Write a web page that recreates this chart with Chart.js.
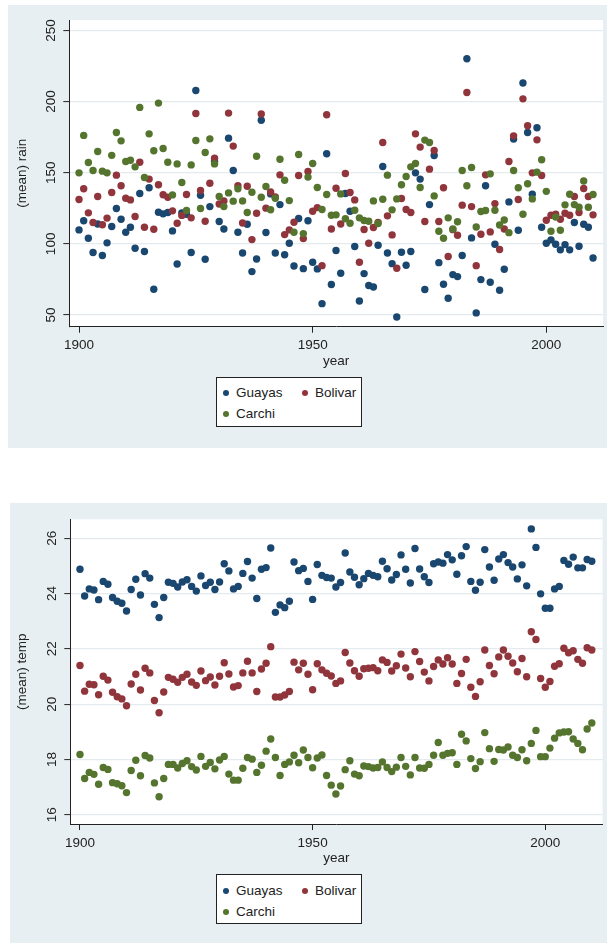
<!DOCTYPE html>
<html><head><meta charset="utf-8">
<script src="https://cdn.jsdelivr.net/npm/chart.js@4.4.1/dist/chart.umd.min.js"></script>
<style>
html,body{margin:0;padding:0;background:#fff;width:607px;height:943px;overflow:hidden;font-family:'Liberation Sans',Arial,sans-serif;}
.panel{position:absolute;background:#E8EFF2;}
#p1{left:8px;top:5px;width:599px;height:443px;}
#p2{left:10px;top:503px;width:597px;height:440px;}
canvas{position:absolute;left:0;top:0;}
.legend{position:absolute;background:#fff;border:1px solid #222;box-sizing:border-box;width:146px;height:50px;font-size:13.5px;color:#222;}
.item{position:absolute;white-space:nowrap;height:16px;line-height:16px;}
.dot{position:absolute;width:6px;height:6px;border-radius:50%;}
</style>
</head><body>
<div class="panel" id="p1"><canvas id="c1" width="599" height="443"></canvas></div>
<div class="panel" id="p2"><canvas id="c2" width="597" height="440"></canvas></div>

<div class="legend" style="left:216px;top:377px;">
  <div class="dot" style="left:6px;top:12px;background:#1A476F"></div><div class="item" style="left:19px;top:7px;">Guayas</div>
  <div class="dot" style="left:85px;top:12px;background:#90353B"></div><div class="item" style="left:98px;top:7px;">Bolivar</div>
  <div class="dot" style="left:6px;top:33px;background:#55752F"></div><div class="item" style="left:19px;top:28px;">Carchi</div>
</div>
<div class="legend" style="left:216px;top:874px;">
  <div class="dot" style="left:6px;top:13px;background:#1A476F"></div><div class="item" style="left:19px;top:8px;">Guayas</div>
  <div class="dot" style="left:85px;top:13px;background:#90353B"></div><div class="item" style="left:98px;top:8px;">Bolivar</div>
  <div class="dot" style="left:6px;top:34px;background:#55752F"></div><div class="item" style="left:19px;top:29px;">Carchi</div>
</div>

<script>
// ---------------- DATA ----------------
const years = [1900,1901,1902,1903,1904,1905,1906,1907,1908,1909,
1910,1911,1912,1913,1914,1915,1916,1917,1918,1919,
1920,1921,1922,1923,1924,1925,1926,1927,1928,1929,
1930,1931,1932,1933,1934,1935,1936,1937,1938,1939,
1940,1941,1942,1943,1944,1945,1946,1947,1948,1949,
1950,1951,1952,1953,1954,1955,1956,1957,1958,1959,
1960,1961,1962,1963,1964,1965,1966,1967,1968,1969,
1970,1971,1972,1973,1974,1975,1976,1977,1978,1979,
1980,1981,1982,1983,1984,1985,1986,1987,1988,1989,
1990,1991,1992,1993,1994,1995,1996,1997,1998,1999,
2000,2001,2002,2003,2004,2005,2006,2007,2008,2009,2010];

const seriesNames = ['Guayas','Bolivar','Carchi'];

const rainGuayas = [109.8,116.2,104.0,93.9,114.0,91.8,100.7,112.2,124.8,117.3,
108.2,111.7,96.9,135.4,94.6,139.4,68.1,122.2,121.1,122.0,
109.1,85.9,121.8,120.8,93.9,207.8,134.2,89.2,126.2,158.0,
115.7,110.5,174.3,151.5,108.2,93.6,113.8,80.5,89.4,186.9,
108.0,135.1,93.6,127.6,92.4,100.4,84.5,117.8,82.6,116.2,
87.1,82.4,58.0,163.3,71.4,95.3,79.4,135.4,122.9,98.1,
59.9,79.1,70.7,69.7,99.0,154.4,93.6,86.1,48.6,94.1,
85.0,94.6,149.9,145.5,67.9,127.6,162.1,86.8,71.6,61.8,
78.4,77.0,91.8,230.1,104.2,51.5,74.9,140.8,73.0,99.7,
67.4,82.2,129.5,173.6,109.6,213.0,178.3,134.9,181.6,111.7,
100.4,102.8,99.7,95.8,99.5,95.8,115.0,98.3,113.8,111.7,90.1];

const rainBolivar = [131.2,138.7,121.8,115.0,133.3,113.4,118.1,136.1,148.3,140.8,
132.1,130.9,119.2,157.4,111.7,145.5,110.3,141.5,134.5,132.8,
123.2,114.5,120.0,134.7,118.3,191.6,137.5,115.9,142.6,160.2,
128.0,130.2,191.9,168.7,140.8,114.7,140.5,103.0,121.5,191.2,
125.1,136.5,133.0,148.5,106.5,109.8,115.2,148.0,103.7,150.8,
122.9,125.5,84.7,190.7,110.5,139.1,114.0,149.4,136.1,130.9,
87.1,110.1,100.4,111.5,115.0,171.2,119.7,106.3,82.9,131.9,
124.1,122.0,177.3,168.0,115.7,152.5,165.6,115.7,139.4,91.1,
110.0,106.1,127.2,206.4,126.2,84.7,106.8,148.5,108.4,128.3,
96.0,110.5,157.9,175.9,131.2,201.9,183.0,149.9,173.1,148.0,
116.6,120.1,120.8,117.3,121.5,120.1,133.3,122.0,138.9,133.3,120.4];

const rainCarchi = [149.9,176.2,157.2,151.5,164.9,151.1,149.9,162.2,178.3,172.4,
157.9,158.8,154.1,195.9,146.6,177.3,165.4,198.9,167.0,157.4,
134.4,156.2,143.1,123.4,155.5,172.6,124.8,164.2,173.8,156.2,
133.3,126.2,135.8,130.0,138.7,130.2,122.0,136.3,161.6,132.8,
140.3,124.0,132.1,159.5,144.7,130.4,108.2,162.8,107.2,146.9,
156.5,139.6,124.1,134.7,120.1,120.4,135.1,117.6,114.5,123.6,
118.3,116.4,115.9,130.2,114.3,131.4,148.3,123.9,131.6,141.5,
147.3,154.1,156.5,139.6,172.9,171.2,133.7,108.9,104.0,118.3,
110.5,115.5,151.5,140.8,153.7,111.9,122.7,123.4,149.2,123.6,
113.3,116.8,107.9,151.5,139.4,120.8,142.2,131.6,150.4,159.1,
136.9,108.9,118.8,109.6,127.4,134.9,127.6,125.7,144.2,125.7,134.7];

const tempGuayas = [24.88,23.91,24.17,24.13,23.78,24.44,24.34,23.86,23.72,23.65,
23.37,24.15,24.52,23.95,24.72,24.56,23.61,23.13,23.86,24.41,
24.37,24.24,24.42,24.50,24.26,24.09,24.64,24.29,24.41,24.15,
24.42,25.08,24.82,24.17,24.26,24.73,25.16,24.56,23.82,24.88,
24.94,25.65,23.32,23.59,23.49,23.72,25.14,24.83,24.91,24.44,
23.79,25.05,24.66,24.58,24.56,24.24,24.40,25.47,24.78,24.59,
24.32,24.54,24.73,24.66,24.61,25.17,24.90,24.49,24.69,25.40,
24.88,24.38,25.63,24.89,24.61,24.40,25.08,25.14,25.10,25.41,
25.22,24.70,25.37,25.70,24.44,24.12,24.41,25.59,24.96,24.48,
25.25,25.41,25.12,24.96,24.53,25.04,24.28,26.34,25.67,23.99,
23.47,23.47,24.17,24.26,25.20,25.06,25.32,24.93,24.93,25.23,25.17];

const tempBolivar = [21.40,20.47,20.72,20.70,20.34,21.01,20.87,20.43,20.27,20.19,
19.94,20.73,21.08,20.51,21.30,21.13,20.13,19.69,20.44,20.97,
20.90,20.79,20.97,21.08,20.80,20.68,21.20,20.85,20.98,20.69,
21.01,21.50,21.09,20.62,20.67,21.13,21.55,21.13,20.46,21.27,
21.48,22.08,20.26,20.26,20.33,20.46,21.52,21.24,21.48,21.08,
20.52,21.46,21.24,21.12,21.02,20.75,20.84,21.87,21.49,21.21,
21.01,21.28,21.30,21.32,21.21,21.60,21.51,21.20,21.39,21.81,
21.31,20.99,21.90,21.54,21.16,20.84,21.36,21.60,21.45,21.68,
21.45,20.75,21.11,21.62,20.61,20.28,20.81,21.96,21.40,21.10,
21.71,21.96,21.73,21.49,21.17,21.65,20.99,22.62,22.34,20.93,
20.61,20.82,21.37,21.46,22.02,21.86,21.93,21.62,21.48,22.04,21.96];

const tempCarchi = [18.18,17.31,17.53,17.46,17.10,17.71,17.64,17.16,17.12,17.05,
16.80,17.60,17.97,17.41,18.14,18.05,17.15,16.65,17.31,17.82,
17.82,17.69,17.85,17.95,17.74,17.62,18.11,17.75,17.89,17.66,
17.98,18.11,17.47,17.25,17.25,17.68,18.07,18.01,17.53,17.79,
18.30,18.74,18.07,17.42,17.82,17.91,18.15,17.88,18.34,18.07,
17.70,18.05,18.16,17.42,17.07,16.75,17.04,17.63,17.95,17.47,
17.41,17.76,17.74,17.69,17.71,17.91,17.71,17.56,17.72,18.07,
17.75,17.44,18.07,17.69,17.68,17.82,18.15,18.61,18.15,18.22,
18.24,17.82,18.91,18.67,18.03,17.67,17.92,18.97,18.39,17.93,
18.36,18.34,18.45,18.15,18.07,18.35,17.95,18.58,19.05,18.10,
18.10,18.41,18.77,18.96,18.99,19.00,18.74,18.58,18.35,19.10,19.32];

const xTicks = [1900, 1950, 2000];
const rainTicks = [50, 100, 150, 200, 250];
const tempTicks = [16, 18, 20, 22, 24, 26];

// ---------------- STYLE ----------------
const COLORS = ['#1A476F', '#90353B', '#55752F'];
const FONT = {family: "'Liberation Sans', Arial, sans-serif", size: 13.5};
const TEXT = '#222';

const plotBg = {
  id: 'plotBg',
  beforeDraw(chart) {
    const {ctx, chartArea: a} = chart;
    ctx.save();
    ctx.fillStyle = '#ffffff';
    ctx.fillRect(a.left, a.top, a.right - a.left, a.bottom - a.top);
    ctx.restore();
  }
};

function pts(vals) { return years.map((y, i) => ({x: y, y: vals[i]})); }

function build(canvasId, seriesArr, yTicksArr, yTitle, g) {
  const datasets = seriesArr.map((vals, i) => ({
    label: seriesNames[i],
    data: pts(vals),
    backgroundColor: COLORS[i],
    borderColor: COLORS[i],
    pointRadius: 3.7,
    pointHoverRadius: 3.7,
    pointBorderWidth: 0,
    order: 3 - i
  }));
  return new Chart(document.getElementById(canvasId), {
    type: 'scatter',
    data: {datasets},
    plugins: [plotBg],
    options: {
      responsive: false,
      animation: false,
      devicePixelRatio: 1,
      events: [],
      layout: {padding: {left: g.L, top: g.T, right: g.R, bottom: g.P}},
      plugins: {legend: {display: false}, tooltip: {enabled: false}},
      scales: {
        x: {
          type: 'linear', position: 'bottom',
          min: g.xmin, max: g.xmax,
          afterBuildTicks: s => { s.ticks = xTicks.map(v => ({value: v})); },
          afterFit: s => { s.height = g.H; },
          ticks: {font: FONT, color: TEXT, padding: g.xpad, maxRotation: 0, minRotation: 0, callback: v => String(v)},
          grid: {drawOnChartArea: false, drawTicks: true, tickLength: 6, tickColor: TEXT, tickWidth: 1},
          border: {display: true, color: TEXT, width: 1},
          title: {display: true, text: 'year', font: FONT, color: TEXT, padding: 0}
        },
        y: {
          type: 'linear', position: 'left',
          min: g.ymin, max: g.ymax,
          afterBuildTicks: s => { s.ticks = yTicksArr.map(v => ({value: v})); },
          afterFit: s => { s.width = g.W; },
          ticks: {font: FONT, color: TEXT, padding: g.ypad, minRotation: 90, maxRotation: 90, crossAlign: 'center', callback: v => String(v)},
          grid: {color: '#E3EBEE', lineWidth: 1.2, drawTicks: true, tickLength: 6, tickColor: TEXT, tickWidth: 1},
          border: {display: true, color: TEXT, width: 1},
          title: {display: true, text: yTitle, font: FONT, color: TEXT, padding: 0}
        }
      }
    }
  });
}

build('c1', [rainGuayas, rainBolivar, rainCarchi], rainTicks, '(mean) rain',
  {L: 5.9, T: 15, R: 4, P: 78.2, W: 55.4, H: 43.1, xpad: 4.2, ypad: 0.34,
   xmin: 1897.92, xmax: 2012.13, ymin: 41.8, ymax: 257.3});

build('c2', [tempGuayas, tempBolivar, tempCarchi], tempTicks, '(mean) temp',
  {L: 3.9, T: 16.3, R: 4.5, P: 76.2, W: 56.4, H: 42.8, xpad: 5.2, ypad: 4.1,
   xmin: 1897.92, xmax: 2012.3, ymin: 15.664, ymax: 26.687});
</script>
</body></html>
